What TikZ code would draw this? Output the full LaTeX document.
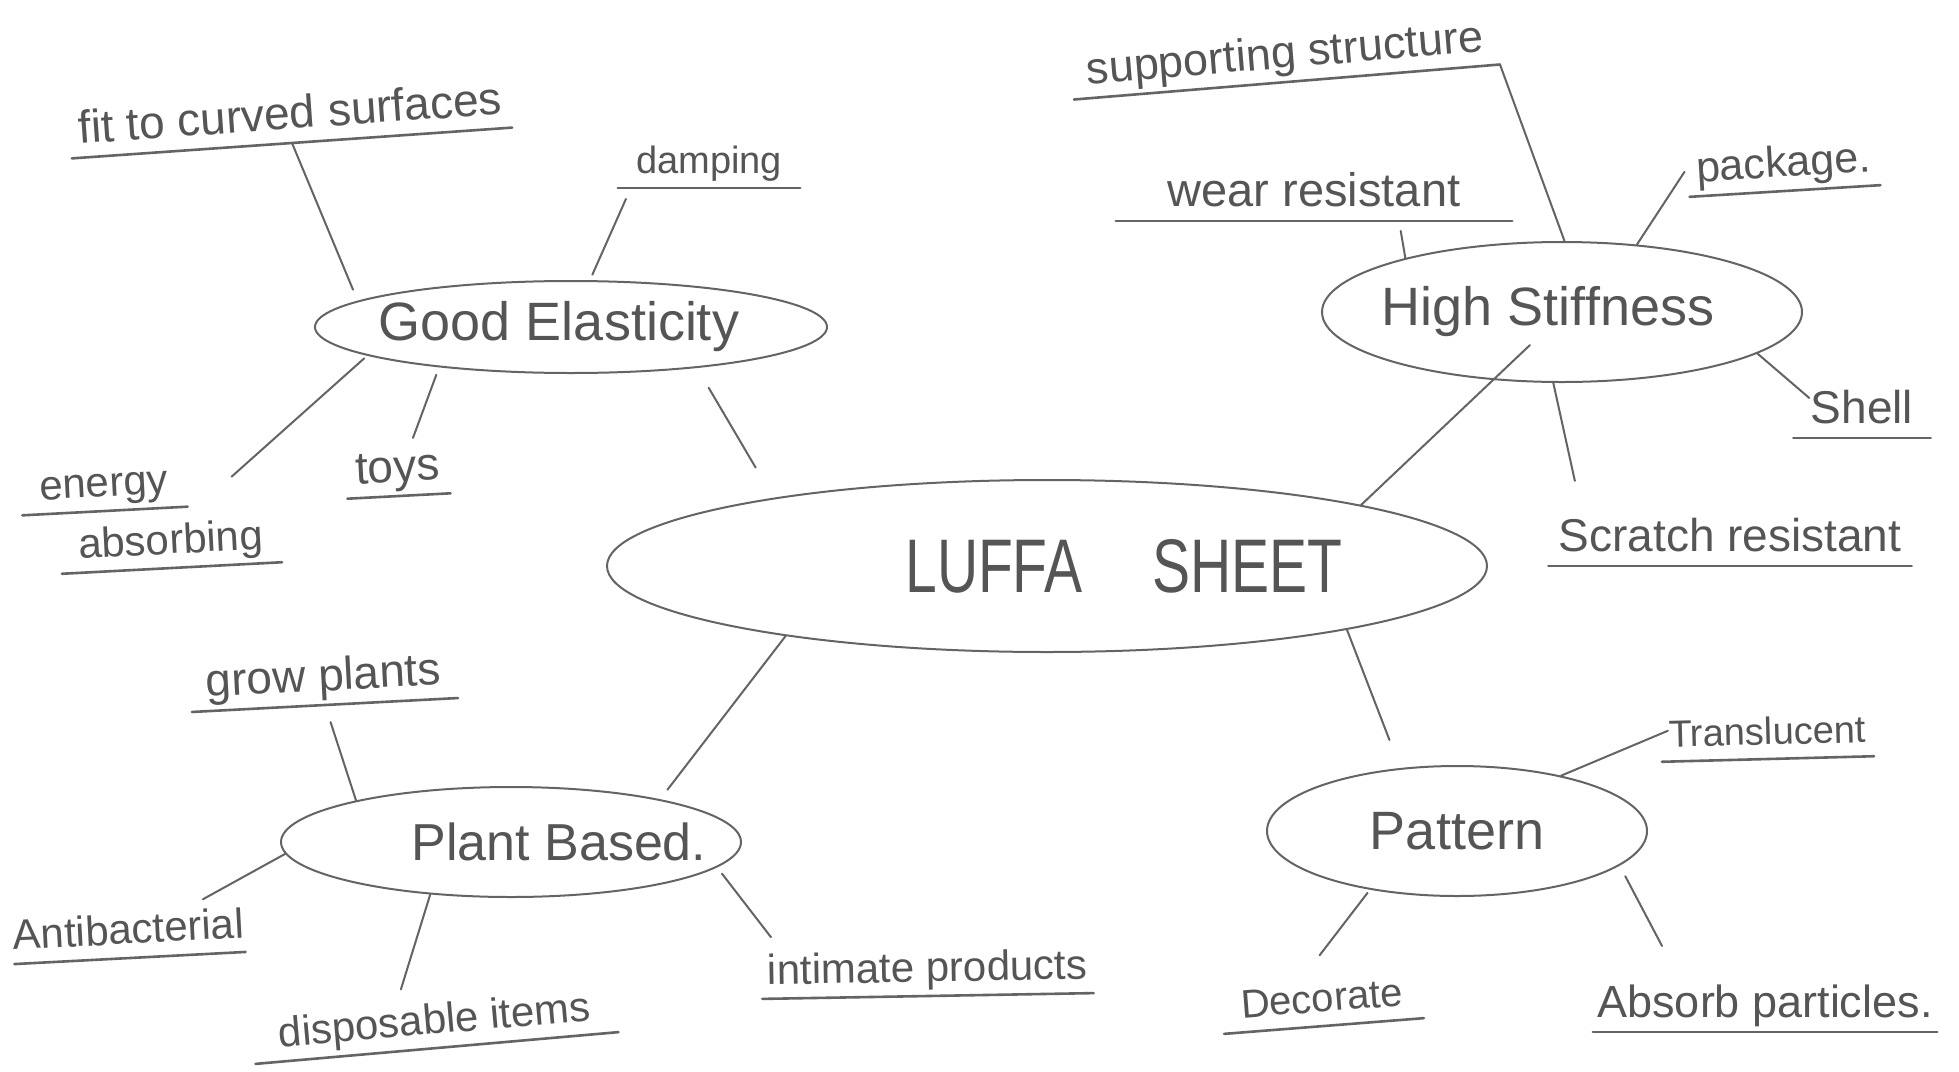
\documentclass[tikz,border=0pt]{standalone}
\usepackage{fontspec}
\setmainfont{Liberation Sans}
\newfontfamily\narrowfont[FakeStretch=0.75]{Liberation Sans}
\usetikzlibrary{shapes.geometric}
\newcommand\hfs[1]{\fontsize{#1}{#1}\selectfont}
\definecolor{pencil}{RGB}{100,100,100}
\definecolor{pentext}{RGB}{85,85,85}
\begin{document}
\begin{tikzpicture}[x=1pt,y=-1pt,
  topic/.style={draw=pencil, line width=2pt, ellipse, inner sep=0pt, text=pentext},
  leaf/.style={inner xsep=0pt, inner ysep=14pt, text depth=0pt, anchor=south, text=pentext},
  uline/.style={draw=pencil, line width=2.6pt, line cap=round},
  link/.style={draw=pencil, line width=2pt, line cap=round}]
\useasboundingbox (0,0) rectangle (1959,1071);
\fill[white] (0,0) rectangle (1959,1071);

% topics
\node[topic, minimum width=880pt, minimum height=172pt, font=\narrowfont\hfs{76}] (c) at (1047,566)
  {\makebox[0pt]{\hspace*{154pt}LUFFA\hspace{70pt}SHEET}};
\node[topic, minimum width=512pt, minimum height=92pt, font=\hfs{54}] (ge) at (571,327)
  {\makebox[0pt]{Good Elasticity\hspace*{24pt}}};
\node[topic, minimum width=480pt, minimum height=140pt, font=\hfs{54}] (hs) at (1562,312)
  {\makebox[0pt]{High Stiffness\hspace*{28pt}}};
\node[topic, minimum width=460pt, minimum height=110pt, font=\hfs{52}] (pb) at (511,842)
  {\makebox[0pt]{\hspace*{96pt}Plant Based.}};
\node[topic, minimum width=380pt, minimum height=130pt, font=\hfs{54}] (pt) at (1457,831)
  {\makebox[0pt]{Pattern}};

% leaves
\node[leaf, font=\hfs{46}, minimum width=441pt, rotate=4] (fit) at (292,143) {fit to curved surfaces};
\node[leaf, font=\hfs{38}, minimum width=182pt] (damp) at (709,188) {damping};
\node[leaf, font=\hfs{42}, minimum width=165pt, rotate=3] (energy) at (105,511) {energy};
\node[leaf, font=\hfs{42}, minimum width=220pt, rotate=3] (absorb) at (172,568) {absorbing};
\node[leaf, font=\hfs{46}, minimum width=103pt, rotate=3] (toys) at (399,496) {toys};
\node[leaf, font=\hfs{45}, minimum width=427pt, rotate=4.7] (supp) at (1287,82) {supporting structure};
\node[leaf, font=\hfs{47}, minimum width=396pt] (wear) at (1314,221) {wear resistant};
\node[leaf, font=\hfs{43}, minimum width=191pt, rotate=3.5] (pack) at (1785,191) {package.};
\node[leaf, font=\hfs{46}, minimum width=137pt] (shell) at (1862,438) {Shell};
\node[leaf, font=\hfs{46}, minimum width=363pt] (scratch) at (1730,566) {Scratch resistant};
\node[leaf, font=\hfs{46}, minimum width=266pt, rotate=3] (grow) at (325,705) {grow plants};
\node[leaf, font=\hfs{42}, minimum width=229pt, rotate=3] (anti) at (130,958) {Antibacterial};
\node[leaf, font=\hfs{42}, minimum width=364pt, rotate=5] (disp) at (437,1048) {disposable items};
\node[leaf, font=\hfs{42}, minimum width=331pt, rotate=1] (intim) at (928,996) {intimate products};
\node[leaf, font=\hfs{38}, minimum width=212pt, rotate=1.5] (transl) at (1768,759) {Translucent};
\node[leaf, font=\hfs{40}, minimum width=200pt, rotate=4.5] (decor) at (1324,1026) {Decorate};
\node[leaf, font=\hfs{45}, minimum width=344pt] (absp) at (1765,1032) {Absorb particles.};

% underlines
\foreach \n in {fit,damp,energy,absorb,toys,supp,wear,pack,shell,scratch,grow,anti,disp,intim,transl,decor,absp}
  \draw[uline] (\n.south west) -- (\n.south east);

% connectors: centre
\draw[link, shorten <=23pt, shorten >=35pt] (ge.342) -- (c.166);
\draw[link] (c.11) -- ([xshift=-32pt,yshift=-33pt]hs.center);
\draw[link, shorten >=12pt] (c.195) -- (pb.16);
\draw[link, shorten >=30pt] (c.348) -- (pt.132);

% Good Elasticity
\draw[link, shorten <=12pt] (ge.173) -- (fit.south);
\draw[link, shorten <=6pt, shorten >=12pt] (ge.68) -- ([xshift=13pt]damp.south west);
\draw[link, shorten <=4pt] (ge.188) -- ([xshift=44pt,yshift=30pt]energy.south east);
\draw[link, shorten <=8pt] (ge.197) -- ([xshift=17pt]toys.north);

% High Stiffness
\draw[link] (hs.88) -- (supp.south east);
\draw[link, shorten >=10pt] (hs.161) -- ([xshift=85pt]wear.south);
\draw[link] (hs.42) -- ([xshift=-5pt,yshift=25pt]pack.south west);
\draw[link] (hs.348) -- ([xshift=16pt,yshift=40pt]shell.south west);
\draw[link, shorten >=24pt] (hs.263) -- ([xshift=-150pt]scratch.north);

% Plant Based
\draw[link, shorten >=18pt] (pb.165) -- (grow.south);
\draw[link] (pb.183) -- ([xshift=76pt]anti.north);
\draw[link] (pb.213) -- ([xshift=-31pt]disp.north);
\draw[link, shorten <=8pt] (pb.353) -- ([xshift=-156pt]intim.north);

% Pattern
\draw[link] (pt.28) -- ([xshift=6pt,yshift=31pt]transl.south west);
\draw[link, shorten <=4pt] (pt.214) -- ([yshift=15pt]decor.north);
\draw[link, shorten <=12pt] (pt.348) -- ([xshift=-103pt,yshift=25pt]absp.north);
\end{tikzpicture}
\end{document}
